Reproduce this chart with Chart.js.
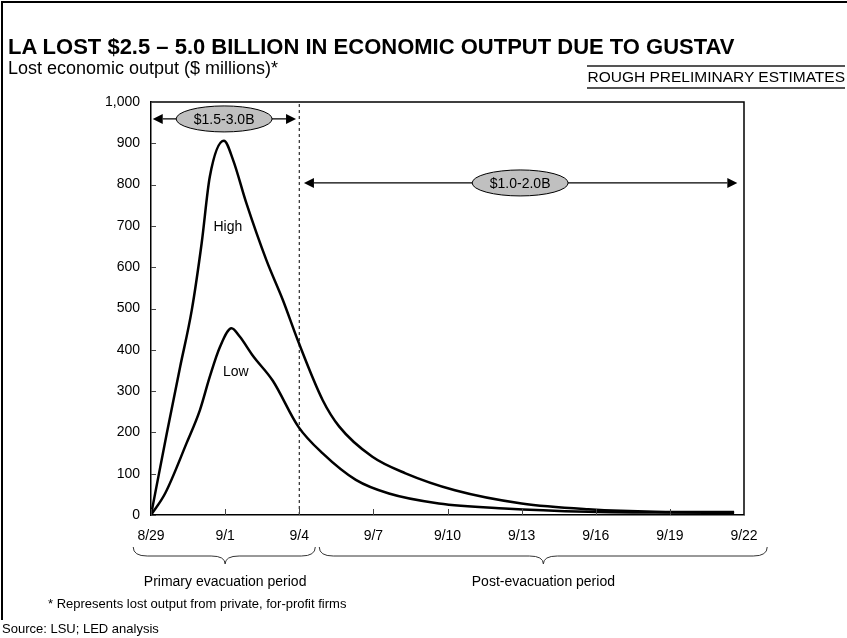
<!DOCTYPE html>
<html>
<head>
<meta charset="utf-8">
<script src="https://cdn.jsdelivr.net/npm/chart.js@4.4.1/dist/chart.umd.min.js"></script>
<style>
  html, body { margin: 0; padding: 0; background: #fff; }
  body { width: 847px; height: 638px; position: relative; overflow: hidden;
         font-family: "Liberation Sans", Arial, sans-serif; color: #000; }
  #frame { position: absolute; left: 1px; top: 1px; width: 860px; height: 617px;
           border-top: 2px solid #000; border-left: 2px solid #000; }
  #chart { position: absolute; left: 0; top: 0; }
  .txt { position: absolute; white-space: nowrap; line-height: 1; }
  #title { left: 8px; top: 36px; font-size: 22px; font-weight: bold; }
  #subtitle { left: 8px; top: 59px; font-size: 18px; }
  #stamp { right: 2px; top: 65px; font-size: 15.5px; padding: 2px 0 2px 0;
           border-top: 2px solid #555; border-bottom: 2px solid #555; }
  #note { left: 48px; top: 597px; font-size: 13px; }
  #source { left: 2px; top: 622px; font-size: 13px; }
</style>
</head>
<body>
<div id="frame"></div>
<canvas id="chart" width="847" height="638"></canvas>
<div class="txt" id="title">LA LOST $2.5 – 5.0 BILLION IN ECONOMIC OUTPUT DUE TO GUSTAV</div>
<div class="txt" id="subtitle">Lost economic output ($ millions)*</div>
<div class="txt" id="stamp">ROUGH PRELIMINARY ESTIMATES</div>
<div class="txt" id="note">* Represents lost output from private, for-profit firms</div>
<div class="txt" id="source">Source: LSU; LED analysis</div>
<script>
// x axis: days since 8/29, one label every 3 days
const dateLabels = ['8/29', '9/1', '9/4', '9/7', '9/10', '9/13', '9/16', '9/19', '9/22'];

// High estimate ($ millions per day)
const highDays   = [0, 0.64, 1.18, 1.65, 2.05, 2.38, 2.95, 3.32, 3.86, 4.67, 5.34, 5.96, 6.95, 7.62, 8.96, 10.3, 12.3, 15.0, 17.7, 20.4, 23.6];
const highValues = [0, 198, 359, 496, 658, 819, 906, 860, 755, 617, 520, 420, 278, 214, 141, 101, 60, 28, 14, 8, 7];

// Low estimate
const lowDays   = [0, 0.57, 1.44, 1.98, 2.38, 2.79, 3.26, 3.59, 4.13, 4.93, 5.96, 6.95, 8.29, 9.63, 11.65, 14.3, 17.7, 20.4, 23.6];
const lowValues = [0, 52, 174, 254, 335, 407, 452, 432, 385, 325, 214, 149, 85, 52, 28, 16, 8, 6, 5];

const evacEndDay = 6; // 9/4
const rangeLabels = ['$1.5-3.0B', '$1.0-2.0B'];
const seriesLabels = ['High', 'Low'];
const periodLabels = ['Primary evacuation period', 'Post-evacuation period'];

const FONT = '"Liberation Sans", Arial, sans-serif';

const toPoints = (xs, ys) => xs.map((d, i) => ({ x: d, y: ys[i] }));

const drawArrow = (ctx, x1, x2, yy) => {
    const head = 10, half = 5;
    ctx.beginPath();
    ctx.moveTo(x1 + head, yy);
    ctx.lineTo(x2 - head, yy);
    ctx.stroke();
    ctx.beginPath();
    ctx.moveTo(x1, yy); ctx.lineTo(x1 + head, yy - half); ctx.lineTo(x1 + head, yy + half); ctx.closePath();
    ctx.moveTo(x2, yy); ctx.lineTo(x2 - head, yy - half); ctx.lineTo(x2 - head, yy + half); ctx.closePath();
    ctx.fill();
};

const drawBadge = (ctx, cx, cy, text) => {
    ctx.beginPath();
    ctx.ellipse(cx, cy, 48, 13, 0, 0, Math.PI * 2);
    ctx.fillStyle = '#c0c0c0';
    ctx.fill();
    ctx.lineWidth = 1;
    ctx.strokeStyle = '#000';
    ctx.stroke();
    ctx.fillStyle = '#000';
    ctx.font = '14px ' + FONT;
    ctx.textAlign = 'center';
    ctx.textBaseline = 'middle';
    ctx.fillText(text, cx, cy + 1);
};

const drawBrace = (ctx, x1, xm, x2, yTop) => {
    const yMid = yTop + 9, yTip = yTop + 17, r = 14;
    ctx.beginPath();
    ctx.moveTo(x1, yTop);
    ctx.quadraticCurveTo(x1, yMid, x1 + r, yMid);
    ctx.lineTo(xm - r, yMid);
    ctx.quadraticCurveTo(xm, yMid, xm, yTip);
    ctx.quadraticCurveTo(xm, yMid, xm + r, yMid);
    ctx.lineTo(x2 - r, yMid);
    ctx.quadraticCurveTo(x2, yMid, x2, yTop);
    ctx.stroke();
};

const decorPlugin = {
    id: 'gustavDecor',
    afterDraw(chart) {
        const { ctx, chartArea: a, scales: { x, y } } = chart;
        ctx.save();
        ctx.strokeStyle = '#000';
        ctx.fillStyle = '#000';

        // top and right edges of the plot box
        ctx.lineWidth = 1.5;
        ctx.beginPath();
        ctx.moveTo(a.left, a.top);
        ctx.lineTo(a.right, a.top);
        ctx.lineTo(a.right, a.bottom);
        ctx.stroke();

        // inward tick marks
        ctx.lineWidth = 1;
        ctx.strokeStyle = '#444';
        ctx.beginPath();
        y.ticks.forEach(t => {
            const py = Math.round(y.getPixelForValue(t.value)) + 0.5;
            ctx.moveTo(a.left, py); ctx.lineTo(a.left + 5, py);
        });
        x.ticks.forEach(t => {
            const px = Math.round(x.getPixelForValue(t.value)) + 0.5;
            ctx.moveTo(px, a.bottom); ctx.lineTo(px, a.bottom - 6);
        });
        ctx.stroke();

        // range arrows with badges
        ctx.strokeStyle = '#000';
        ctx.lineWidth = 1.2;
        const y1 = y.getPixelForValue(959);
        drawArrow(ctx, x.getPixelForValue(0.07), x.getPixelForValue(5.87), y1);
        drawBadge(ctx, x.getPixelForValue(2.96), y1, rangeLabels[0]);
        ctx.strokeStyle = '#000';
        ctx.lineWidth = 1.2;
        const y2 = y.getPixelForValue(804);
        drawArrow(ctx, x.getPixelForValue(6.19), x.getPixelForValue(23.73), y2);
        drawBadge(ctx, x.getPixelForValue(14.94), y2, rangeLabels[1]);

        // series labels
        ctx.font = '14px ' + FONT;
        ctx.textAlign = 'center';
        ctx.textBaseline = 'middle';
        ctx.fillText(seriesLabels[0], x.getPixelForValue(3.11), y.getPixelForValue(697));
        ctx.fillText(seriesLabels[1], x.getPixelForValue(3.43), y.getPixelForValue(347));

        // period braces under the x axis
        ctx.strokeStyle = '#333';
        ctx.lineWidth = 1;
        const braceTop = a.bottom + 32;
        drawBrace(ctx, x.getPixelForValue(-0.72), x.getPixelForValue(3), x.getPixelForValue(6.65), braceTop);
        drawBrace(ctx, x.getPixelForValue(6.81), x.getPixelForValue(15.88), x.getPixelForValue(24.94), braceTop);
        ctx.fillStyle = '#000';
        ctx.fillText(periodLabels[0], x.getPixelForValue(3), a.bottom + 67);
        ctx.fillText(periodLabels[1], x.getPixelForValue(15.88), a.bottom + 67);

        ctx.restore();
    }
};

new Chart(document.getElementById('chart'), {
    type: 'line',
    data: {
        datasets: [{
            label: seriesLabels[0],
            data: toPoints(highDays, highValues),
            borderColor: '#000',
            borderWidth: 2.5,
            pointRadius: 0,
            cubicInterpolationMode: 'monotone',
            fill: false
        }, {
            label: seriesLabels[1],
            data: toPoints(lowDays, lowValues),
            borderColor: '#000',
            borderWidth: 2.5,
            pointRadius: 0,
            cubicInterpolationMode: 'monotone',
            fill: false
        }, {
            label: 'evacuation end',
            data: [{ x: evacEndDay, y: 0 }, { x: evacEndDay, y: 1000 }],
            borderColor: '#000',
            borderWidth: 1,
            borderDash: [3, 3],
            pointRadius: 0
        }]
    },
    options: {
        responsive: false,
        animation: false,
        layout: { padding: { left: 91, right: 103, top: 102, bottom: 93 } },
        plugins: { legend: { display: false }, tooltip: { enabled: false } },
        scales: {
            x: {
                type: 'linear',
                min: 0,
                max: 24,
                afterFit: s => { s.height = 30; s.paddingLeft = 0; s.paddingRight = 0; },
                grid: { display: false, drawTicks: false },
                border: { display: true, color: '#000', width: 1.5 },
                ticks: {
                    stepSize: 3,
                    autoSkip: false,
                    maxRotation: 0,
                    padding: 13,
                    color: '#000',
                    font: { family: FONT, size: 14 },
                    callback: v => dateLabels[v / 3]
                }
            },
            y: {
                min: 0,
                max: 1000,
                afterFit: s => { s.width = 60; s.paddingTop = 0; s.paddingBottom = 0; },
                grid: { display: false, drawTicks: false },
                border: { display: true, color: '#000', width: 1.5 },
                ticks: {
                    stepSize: 100,
                    padding: 11,
                    color: '#000',
                    font: { family: FONT, size: 14 },
                    callback: v => v.toLocaleString('en-US')
                }
            }
        }
    },
    plugins: [decorPlugin]
});
</script>
</body>
</html>
